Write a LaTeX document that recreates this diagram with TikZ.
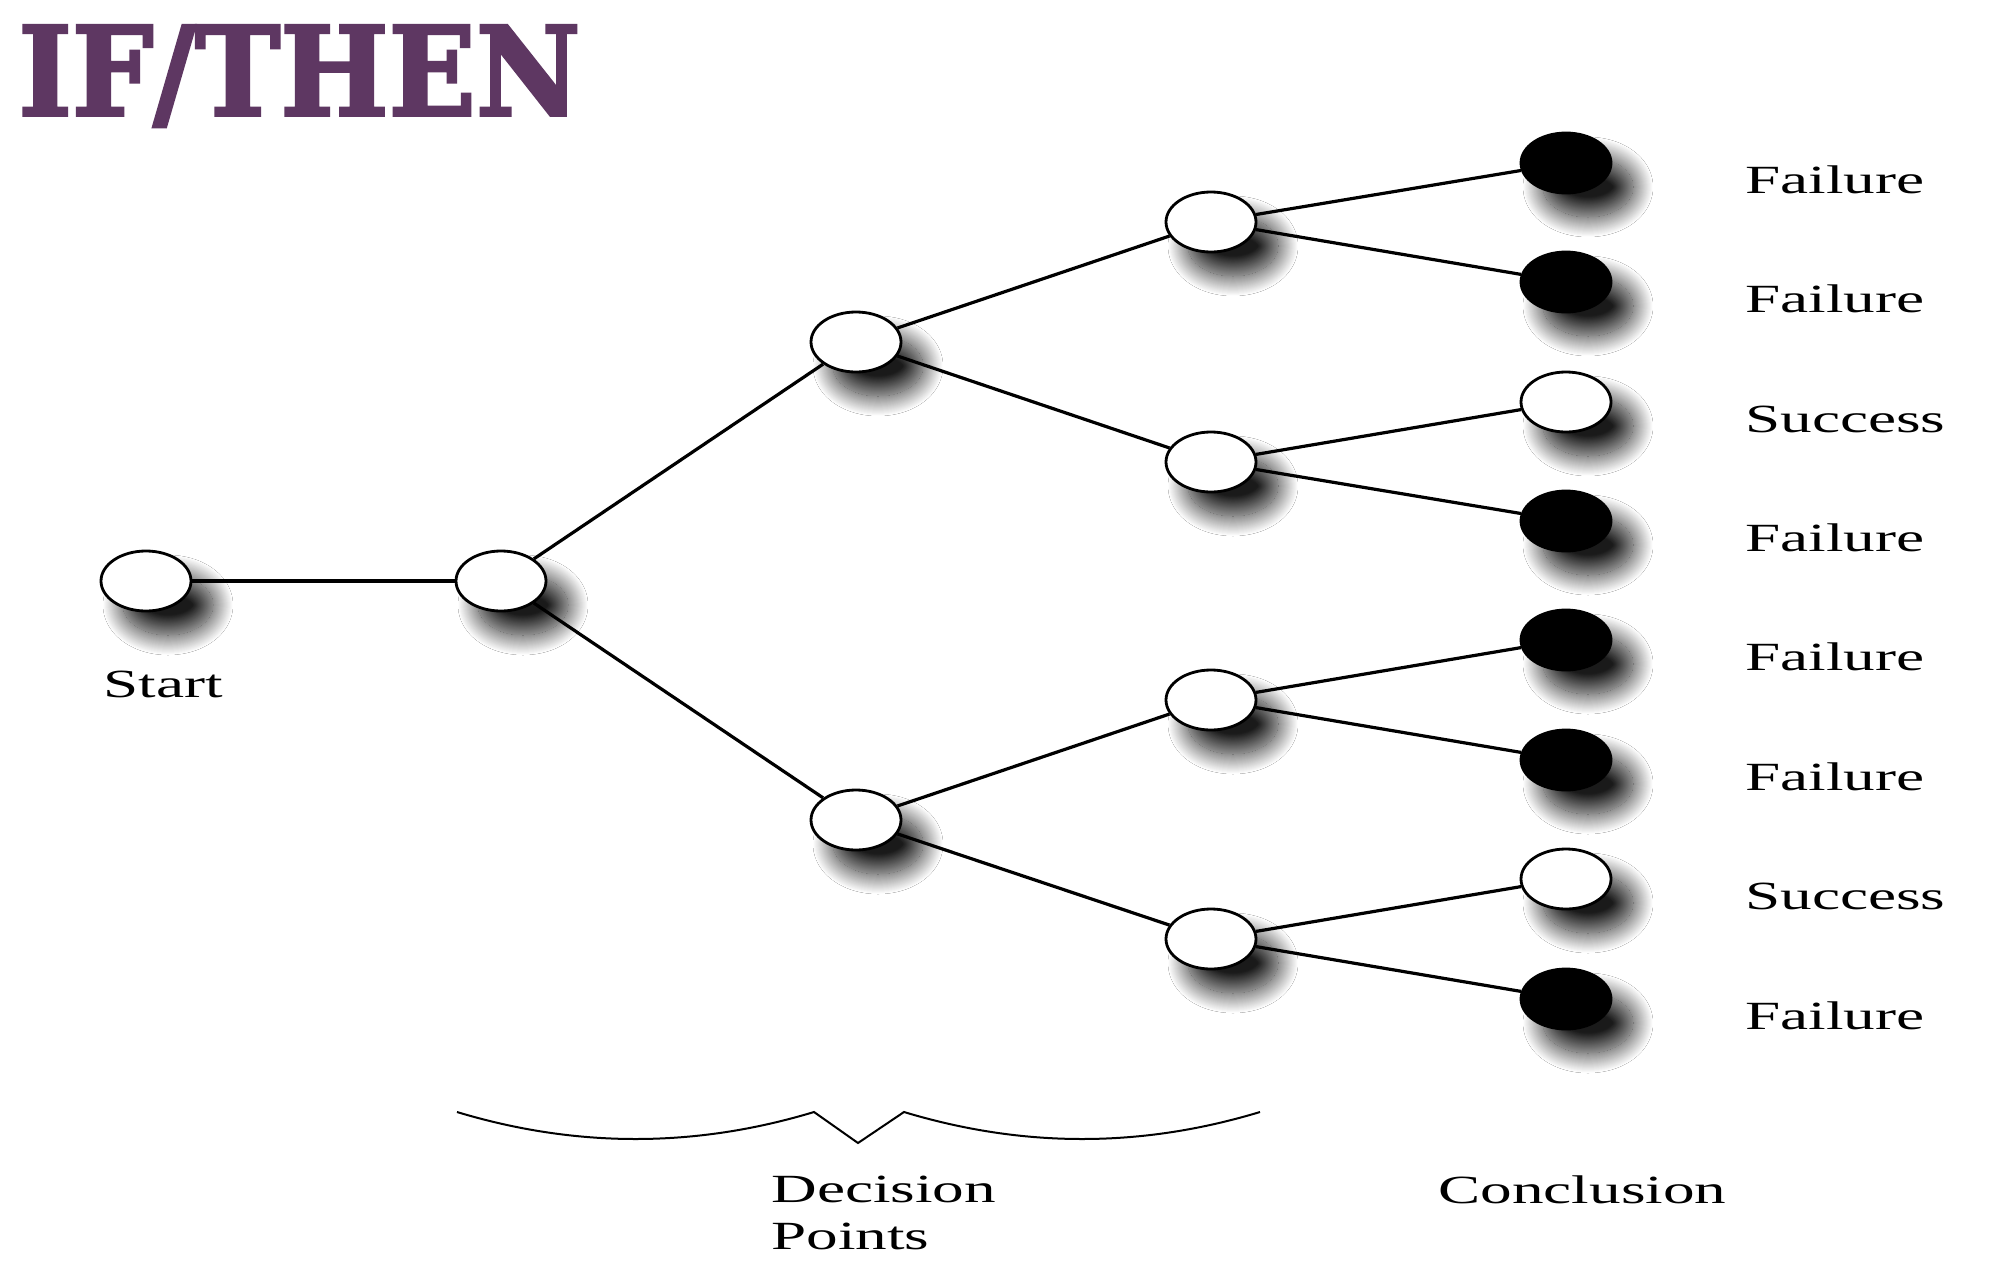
\documentclass[tikz,border=0pt]{standalone}
\usepackage{fontspec}
\usepackage{tikz}
\usetikzlibrary{shapes.geometric}
\usetikzlibrary{shadows.blur}
\usetikzlibrary{calc}
\definecolor{ifpurple}{HTML}{5E3762}
\newfontfamily\lblfont{Liberation Serif}[FakeStretch=1.58]
\newfontfamily\ifthenfont{DejaVu Serif}[FakeBold=2.5]

\begin{document}
\begin{tikzpicture}[x=0.5pt, y=-0.5pt,
        dp/.style={ellipse, draw, line width=1.4pt, fill=white, minimum width=45pt, minimum height=30pt, inner sep=0pt,
            blur shadow={shadow xshift=11pt, shadow yshift=-12pt, shadow blur radius=10pt, shadow blur steps=40, shadow opacity=90}},
        fail/.style={dp, fill=black},
        lbl/.style={font=\lblfont\fontsize{20}{23.5}\selectfont, inner sep=0pt},
        link/.style={line width=1.6pt}]
    \useasboundingbox[fill=white] (0,0) rectangle (2002,1268);
    \node[anchor=north west, inner sep=0pt, text=ifpurple] (title) at (18,25)
        {\resizebox{281pt}{45pt}{\ifthenfont\bfseries IF/THEN}};
    \node[dp] (start) at (146,581) {};
    \node[dp] (d1) at (501,581) {};
    \node[dp] (d2a) at (856,342) {};
    \node[dp] (d2b) at (856,820) {};
    \foreach \n/\y in {a/222, b/462, c/700, d/939}
        \node[dp] (d3\n) at (1211,\y) {};
    \foreach \i/\y/\s in {1/163/fail, 2/282/fail, 3/402/dp, 4/521/fail, 5/640/fail, 6/760/fail, 7/879/dp, 8/999/fail}
        \node[\s] (o\i) at (1566,\y) {};
    \draw[link, line width=2pt] (start) -- (d1);
    \foreach \a/\b in {d1/d2a, d1/d2b, d2a/d3a, d2a/d3b, d2b/d3c, d2b/d3d, d3a/o1, d3a/o2, d3b/o3, d3b/o4, d3c/o5, d3c/o6, d3d/o7, d3d/o8}
        \draw[link] (\a) -- (\b);
    \foreach \i/\t in {1/Failure, 2/Failure, 3/Success, 4/Failure, 5/Failure, 6/Failure, 7/Success, 8/Failure}
        \node[lbl, anchor=base west] (t\i) at ($(o\i)+(179,30)$) {\t};
    \node[lbl, anchor=base west] (startlbl) at (103,697) {Start};
    \draw[line width=1pt] (457,1112) .. controls (576,1148) and (695,1148) .. (814,1112) -- (858,1143) -- (904,1112)
        .. controls (1023,1148) and (1141,1148) .. (1260,1112);
    \node[lbl, anchor=north west, align=left] (decision) at (771,1176) {Decision\\Points};
    \node[lbl, anchor=base west] (conclusion) at (1438,1203) {Conclusion};
\end{tikzpicture}
\end{document}
